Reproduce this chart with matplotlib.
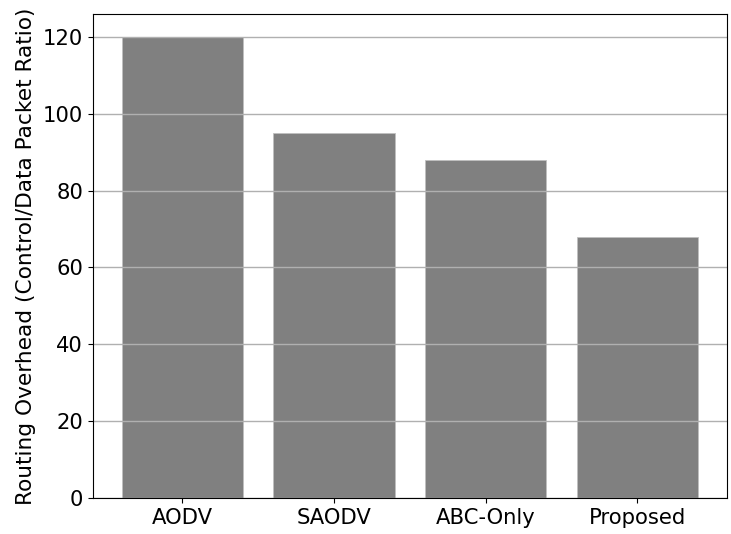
import matplotlib
matplotlib.use('Agg')
import matplotlib.pyplot as plt

methods = ['AODV', 'SAODV', 'ABC-Only', 'Proposed']
overhead = [120, 95, 88, 68]

fig, ax = plt.subplots(figsize=(7.31, 5.34), dpi=100)
ax.bar(methods, overhead, width=0.8, color='gray', edgecolor='#c0c0c0', linewidth=0.6)
ax.set_ylabel('Routing Overhead (Control/Data Packet Ratio)', fontsize=15.6, labelpad=5)
ax.tick_params(axis='both', labelsize=15.2)
ax.yaxis.grid(True, color='#b0b0b0', linewidth=1.0)
fig.subplots_adjust(left=0.127, right=0.9945, top=0.974, bottom=0.0674)
fig.savefig('out.png', dpi=100)
